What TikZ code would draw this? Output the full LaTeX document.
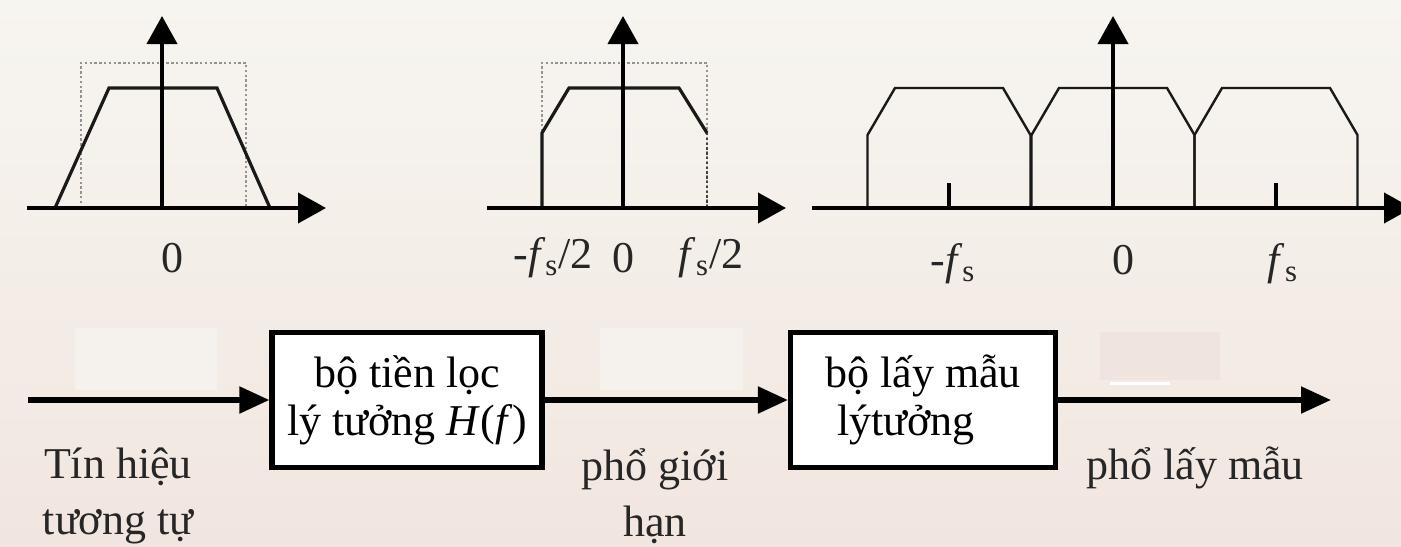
\documentclass[tikz,border=0pt]{standalone}
\usepackage{fontspec}
\setmainfont{Liberation Serif}
\usetikzlibrary{arrows.meta,positioning}
\definecolor{bgtop}{RGB}{247,245,240}
\definecolor{bgbot}{RGB}{241,230,223}
\definecolor{patch}{RGB}{245,242,238}
\definecolor{patchr}{RGB}{240,228,222}
\tikzset{
  axis/.style={-{Triangle[length=14pt,width=15pt]}, line width=2pt, black},
  band/.style={line width=1.6pt, black!90, line join=miter},
  ideal/.style={gray!85, line width=1.3pt, dash pattern=on 1.2pt off 1.2pt},
  tick/.style={line width=1.6pt, black},
  block/.style={draw=black, line width=2.6pt, fill=white, minimum width=135pt, minimum height=67.5pt, inner sep=0pt, align=center, font=\fontsize{22}{24}\selectfont},
  sig/.style={-{Triangle[length=15pt,width=13pt]}, line width=2.6pt},
  note/.style={font=\fontsize{22}{28}\selectfont, align=center, inner sep=0pt, text=black!85}
}

\begin{document}
\begin{tikzpicture}[x=0.5pt,y=-0.5pt]
  \useasboundingbox (0,0) rectangle (1401,546);
  \fill[top color=bgtop,bottom color=bgbot] (0,0) rectangle (1401,546);
  % faint patches of the scan
  \fill[patch] (75,328) rectangle (217,390);
  \fill[patch] (600,328) rectangle (743,390);
  \fill[patchr] (1100,332) rectangle (1220,380);
  \draw[white,line width=1.5pt] (1110,383)--(1170,383);

  % analog spectrum
  \draw[ideal] (81,208)--(81,63)--(246,63)--(246,208);
  \draw[band] (55,208)--(109,88)--(217,88)--(270,208);
  \draw[axis] (27,208)--(326,208);
  \draw[axis] (162,208)--(162,16);
  \node[note] (zeroa) at (172,258) {0};

  % band limited spectrum
  \draw[ideal] (542,208)--(542,63)--(707,63)--(707,208);
  \draw[ideal, black!75, line width=1.4pt] (707,133)--(707,208);
  \draw[band] (542,208)--(542,133)--(569,88)--(679,88)--(707,133);
  \draw[axis] (487,208)--(786,208);
  \draw[axis] (623,208)--(623,16);
  \node[note] (fsl) at (553,258) {-\textit{f}\textsubscript{s}/2};
  \node[note] (zerob) at (623,258) {0};
  \node[note] (fsr) at (711,258) {\textit{f}\textsubscript{s}/2};

  % sampled spectrum
  \foreach \c in {949,1113,1276}
    \draw[band, line width=1.2pt, shift={(\c,0)}] (-81.5,208)--(-81.5,135)--(-54,88)--(54,88)--(81.5,135)--(81.5,208);
  \foreach \c in {949,1276}
    \draw[tick] (\c,208)--(\c,183);
  \draw[axis] (812,208)--(1412,208);
  \draw[axis] (1113,208)--(1113,16);
  \node[note] (mfs) at (953,264) {-\textit{f}\textsubscript{s}};
  \node[note] (zeroc) at (1123,260) {0};
  \node[note] (pfs) at (1283,264) {\textit{f}\textsubscript{s}};

  % block diagram
  \node[block] (pre) at (407,400) {bộ tiền lọc\\lý tưởng \textit{H}(\textit{f})};
  \node[block, minimum width=132.5pt, align=left] (smp) at (923,400) {bộ lấy mẫu\\\hspace*{6pt}lýtưởng};
  \coordinate (in) at (28,400);
  \coordinate (out) at (1331,400);
  \draw[sig] (in)--(pre);
  \draw[sig] (pre)--(smp);
  \draw[sig] (smp)--(out);

  \node[note] (src) at (118,496) {Tín hiệu\\tương tự};
  \node[note] (lim) at (655,496) {phổ giới\\hạn};
  \node[note] (spl) at (1195,468) {phổ lấy mẫu};
\end{tikzpicture}
\end{document}
